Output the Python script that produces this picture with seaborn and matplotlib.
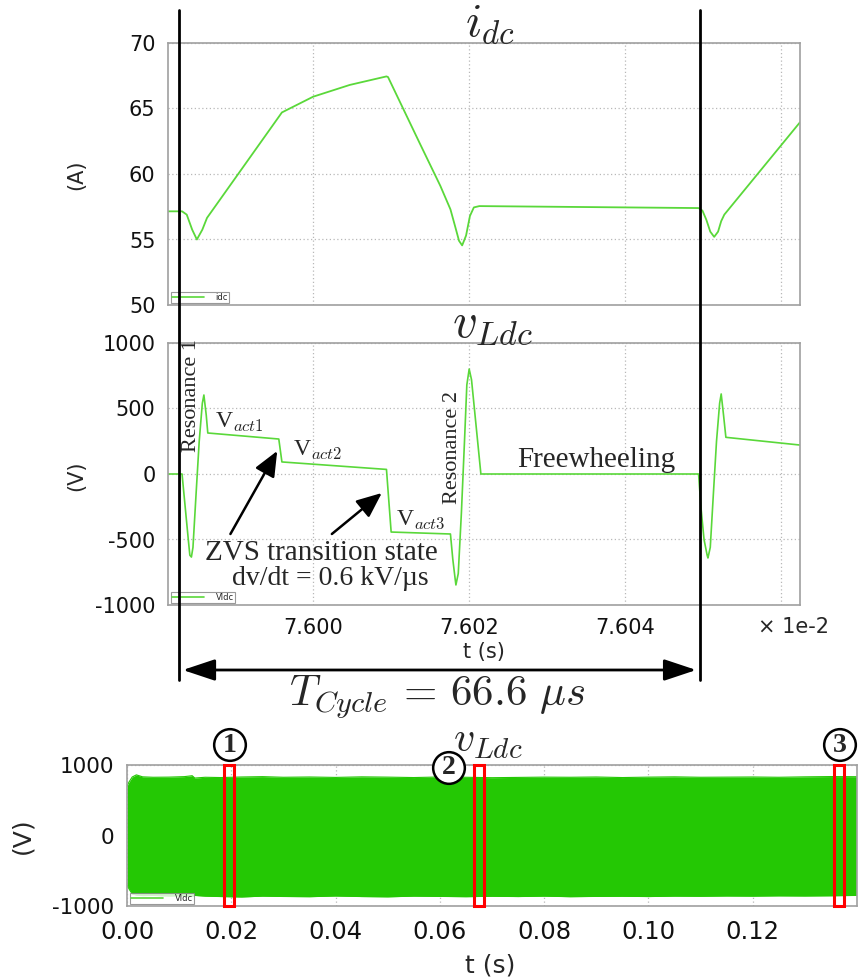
import numpy as np
import pandas as pd
import matplotlib
matplotlib.use("Agg")
import matplotlib.pyplot as plt
import seaborn as sns
from matplotlib.transforms import blended_transform_factory
from matplotlib.patches import Rectangle
from matplotlib.lines import Line2D

# ---------------- data ----------------
# time axis of the zoomed panels in units of 1e-2 s
t_idc = [7.59814, 7.59832, 7.59838, 7.59845, 7.59851, 7.59858, 7.59864, 7.59960,
         7.60000, 7.60047, 7.60094, 7.60096, 7.60137, 7.60163, 7.60176, 7.60182,
         7.60187, 7.60191, 7.60196, 7.60201, 7.60206, 7.60213, 7.60494, 7.60499,
         7.60504, 7.60509, 7.60514, 7.60519, 7.60523, 7.60527, 7.60624]
idc = [57.15, 57.15, 56.9, 55.75, 55.0, 55.75, 56.65, 64.7,
       65.9, 66.8, 67.45, 67.4, 62.3, 59.1, 57.3, 56.0,
       54.9, 54.55, 55.3, 56.8, 57.45, 57.55, 57.4, 57.2,
       56.5, 55.6, 55.2, 55.6, 56.4, 56.9, 63.95]

t_vldc = [7.59814, 7.59832, 7.59836, 7.59840, 7.59842, 7.59844, 7.59846, 7.59850,
          7.59854, 7.59858, 7.59860, 7.59863, 7.59865, 7.59956, 7.59960, 7.60094,
          7.60100, 7.60176, 7.60179, 7.60182, 7.60183, 7.60186, 7.60190, 7.60194,
          7.60197, 7.60200, 7.60203, 7.60215, 7.60494, 7.60497, 7.60501, 7.60505,
          7.60506, 7.60509, 7.60513, 7.60517, 7.60521, 7.60523, 7.60526, 7.60529,
          7.60624]
vldc = [0, 0, -250, -500, -620, -634, -560, -150,
        250, 540, 603, 450, 313, 267, 92, 35,
        -443, -458, -650, -800, -847, -760, -300, 250,
        680, 801, 720, 0, 0, -250, -500, -620,
        -641, -560, -150, 250, 540, 611, 450, 280,
        221]

# envelope of the long-run v_Ldc record (s, V)
t_env = [0.0, 0.0004, 0.0010, 0.0018, 0.0030, 0.0050, 0.0080, 0.0110, 0.0125, 0.0130,
         0.0150, 0.0180, 0.0220, 0.0260, 0.0300, 0.0350, 0.0400, 0.0450, 0.0500, 0.0550,
         0.0600, 0.0650, 0.0700, 0.0750, 0.0800, 0.0850, 0.0900, 0.0950, 0.1000, 0.1050,
         0.1100, 0.1150, 0.1200, 0.1250, 0.1300, 0.1350, 0.1399]
env_upper = [700, 760, 830, 860, 832, 826, 828, 835, 848, 815,
             826, 822, 830, 835, 826, 830, 824, 832, 828, 822,
             830, 826, 820, 824, 828, 826, 830, 822, 828, 832,
             826, 828, 830, 826, 832, 836, 834]
env_lower = [-700, -760, -830, -845, -852, -850, -858, -855, -862, -850,
             -860, -866, -872, -860, -865, -868, -858, -866, -870, -860,
             -864, -868, -862, -866, -860, -868, -864, -862, -866, -860,
             -862, -858, -860, -856, -858, -855, -850]

# highlighted windows (s)
box_start = [0.0186, 0.0665, 0.1356]
box_labels = ["1", "2", "3"]
cycle_marks = [7.59828, 7.60496]   # 1e-2 s

# ---------------- figure ----------------
W, H = 859, 980
sns.set_style("white")
plt.rcParams["font.family"] = ["DejaVu Sans"]
plt.rcParams["mathtext.fontset"] = "cm"
plt.rcParams["axes.unicode_minus"] = False

fig = plt.figure(figsize=(W / 100, H / 100), dpi=100)


def fx(x):
    return x / W


def fy(y):
    return 1 - y / H


def axrect(l, t, r, b):
    return [fx(l), fy(b), (r - l) / W, (b - t) / H]


ax1 = fig.add_axes(axrect(168, 43, 800, 305))
ax2 = fig.add_axes(axrect(168, 343, 800, 605))
ax3 = fig.add_axes(axrect(127, 765, 857, 906))

LINE_GREEN = "#5ad83a"
FILL_GREEN = "#24c804"
SPINE = "#a0a0a0"


def style(ax, labelsize=15):
    for s in ax.spines.values():
        s.set_color(SPINE)
        s.set_linewidth(1.2)
    ax.grid(True, linestyle=(0, (1, 2)), color="#b8b8b8", linewidth=0.9)
    ax.set_axisbelow(True)
    ax.tick_params(axis="both", direction="out", length=6, color=SPINE,
                   width=1, labelsize=labelsize, pad=3, labelcolor="#111111")


df1 = pd.DataFrame({"t": t_idc, "idc": idc})
df2 = pd.DataFrame({"t": t_vldc, "vldc": vldc})

sns.lineplot(data=df1, x="t", y="idc", ax=ax1, color=LINE_GREEN, lw=1.3,
             label="idc", estimator=None, sort=False)
sns.lineplot(data=df2, x="t", y="vldc", ax=ax2, color=LINE_GREEN, lw=1.2,
             label="Vldc", estimator=None, sort=False)

xt = [7.600, 7.602, 7.604, 7.606]
for ax in (ax1, ax2):
    style(ax)
    ax.set_xlim(7.59814, 7.60624)
    ax.set_xticks(xt)
    ax.set_xlabel("")
    ax.set_ylabel("")

ax1.set_ylim(50, 70)
ax1.set_yticks([50, 55, 60, 65, 70])
ax1.tick_params(axis="x", length=0, labelbottom=False)

ax2.set_ylim(-1000, 1000)
ax2.set_yticks([-1000, -500, 0, 500, 1000])
ax2.set_xticklabels(["7.600", "7.602", "7.604", ""])

# bottom panel
style(ax3)
ax3.fill_between(t_env, env_lower, env_upper, color=FILL_GREEN, lw=0, zorder=2)
env_df = pd.DataFrame({"t": t_env + t_env,
                       "v": env_upper + env_lower,
                       "side": ["u"] * len(t_env) + ["l"] * len(t_env)})
sns.lineplot(data=env_df, x="t", y="v", units="side", estimator=None,
             color=FILL_GREEN, lw=0.8, ax=ax3, zorder=2)
ax3.set_xlim(0, 0.14)
ax3.set_ylim(-1000, 1000)
ax3.set_yticks([-1000, 0, 1000])
ax3.set_xticks([0.0, 0.02, 0.04, 0.06, 0.08, 0.10, 0.12])
ax3.set_xticklabels(["0.00", "0.02", "0.04", "0.06", "0.08", "0.10", "0.12"])
ax3.tick_params(axis="x", labelsize=17.5, pad=4)
ax3.tick_params(axis="y", labelsize=15.5, pad=3)
ax3.set_xlabel("")
ax3.set_ylabel("")


def small_legend(ax, label):
    h = Line2D([0], [0], color=LINE_GREEN, lw=1.2)
    leg = ax.legend([h], [label], loc="lower left", bbox_to_anchor=(0.003, 0.003),
                    fontsize=6, frameon=True, fancybox=False, borderpad=0.12,
                    handlelength=3.8, handletextpad=1.4, borderaxespad=0.15)
    leg.get_frame().set_edgecolor("#808080")
    leg.get_frame().set_linewidth(0.8)


small_legend(ax1, "idc")
small_legend(ax2, "Vldc")
small_legend(ax3, "Vldc")

# red highlight boxes
for s in box_start:
    ax3.add_patch(Rectangle((s, -1000), 0.0020, 2000, fill=False, ec="#ff0000",
                            lw=2.2, zorder=5, clip_on=False))
circ_pos = [(230, 745), (449, 768), (840, 745)]
for (cx, cy), lab in zip(circ_pos, box_labels):
    fig.text(fx(cx), fy(cy), lab, ha="center", va="center", fontsize=20,
             fontweight="bold", family="Liberation Serif", zorder=10,
             bbox=dict(boxstyle="circle,pad=0.12", fc="white", ec="black", lw=1.8))

# titles and axis labels
fig.text(fx(490), fy(24), r"$i_{dc}$", ha="center", va="center", fontsize=34)
fig.text(fx(493), fy(323), r"$v_{Ldc}$", ha="center", va="center", fontsize=35)
fig.text(fx(488), fy(740), r"$v_{Ldc}$", ha="center", va="center", fontsize=30)
fig.text(fx(76), fy(175), "(A)", ha="center", va="center", rotation=90, fontsize=15)
fig.text(fx(76), fy(476), "(V)", ha="center", va="center", rotation=90, fontsize=15)
fig.text(fx(484), fy(652), "t (s)", ha="center", va="center", fontsize=15)
fig.text(fx(793), fy(627), "\u00d7 1e-2", ha="center", va="center", fontsize=15)
fig.text(fx(22), fy(836), "(V)", ha="center", va="center", rotation=90, fontsize=18)
fig.text(fx(490), fy(965), "t (s)", ha="center", va="center", fontsize=18)

# annotations on the v_Ldc zoom
serif = "Liberation Serif"
ax2.text(7.59844, 603, "Resonance 1", rotation=90, ha="center", va="center",
         fontsize=16, family=serif)
ax2.text(7.60178, 206, "Resonance 2", rotation=90, ha="center", va="center",
         fontsize=16, family=serif)
ax2.text(7.59906, 397, r"V$_{act1}$", ha="center", va="center", fontsize=17, family=serif)
ax2.text(7.60006, 183, r"V$_{act2}$", ha="center", va="center", fontsize=17, family=serif)
ax2.text(7.60138, -351, r"V$_{act3}$", ha="center", va="center", fontsize=17, family=serif)
ax2.text(7.60363, 107, "Freewheeling", ha="center", va="center", fontsize=21, family=serif)
ax2.text(7.60010, -603, "ZVS transition state", ha="center", va="center",
         fontsize=21, family=serif)
ax2.text(7.60022, -800, "dv/dt = 0.6 kV/\u00b5s", ha="center", va="center",
         fontsize=20, family=serif)
arrow_kw = dict(arrowstyle="-|>,head_length=0.7,head_width=0.3", color="black",
                lw=1.8, mutation_scale=22, shrinkA=0, shrinkB=0)
ax2.annotate("", xy=(7.59954, 176), xytext=(7.59894, -458), arrowprops=arrow_kw)
ax2.annotate("", xy=(7.60088, -145), xytext=(7.60024, -458), arrowprops=arrow_kw)

# cycle markers spanning both zoom panels
trans = blended_transform_factory(ax2.transData, fig.transFigure)
for c in cycle_marks:
    fig.add_artist(Line2D([c, c], [fy(10), fy(680)], transform=trans,
                          color="black", lw=2.0, zorder=20))
ax2.annotate("", xy=(cycle_marks[1] - 0.00005, fy(670)), xycoords=trans,
             xytext=(cycle_marks[0] + 0.00005, fy(670)), textcoords=trans,
             arrowprops=dict(arrowstyle="<|-|>,head_length=0.9,head_width=0.3",
                             color="black", lw=2.0, mutation_scale=22,
                             shrinkA=0, shrinkB=0),
             annotation_clip=False)
fig.text(fx(437), fy(697), r"$T_{Cycle}\,=\,66.6\ \mu s$", ha="center", va="center",
         fontsize=31)

fig.savefig("out.png", dpi=100)
